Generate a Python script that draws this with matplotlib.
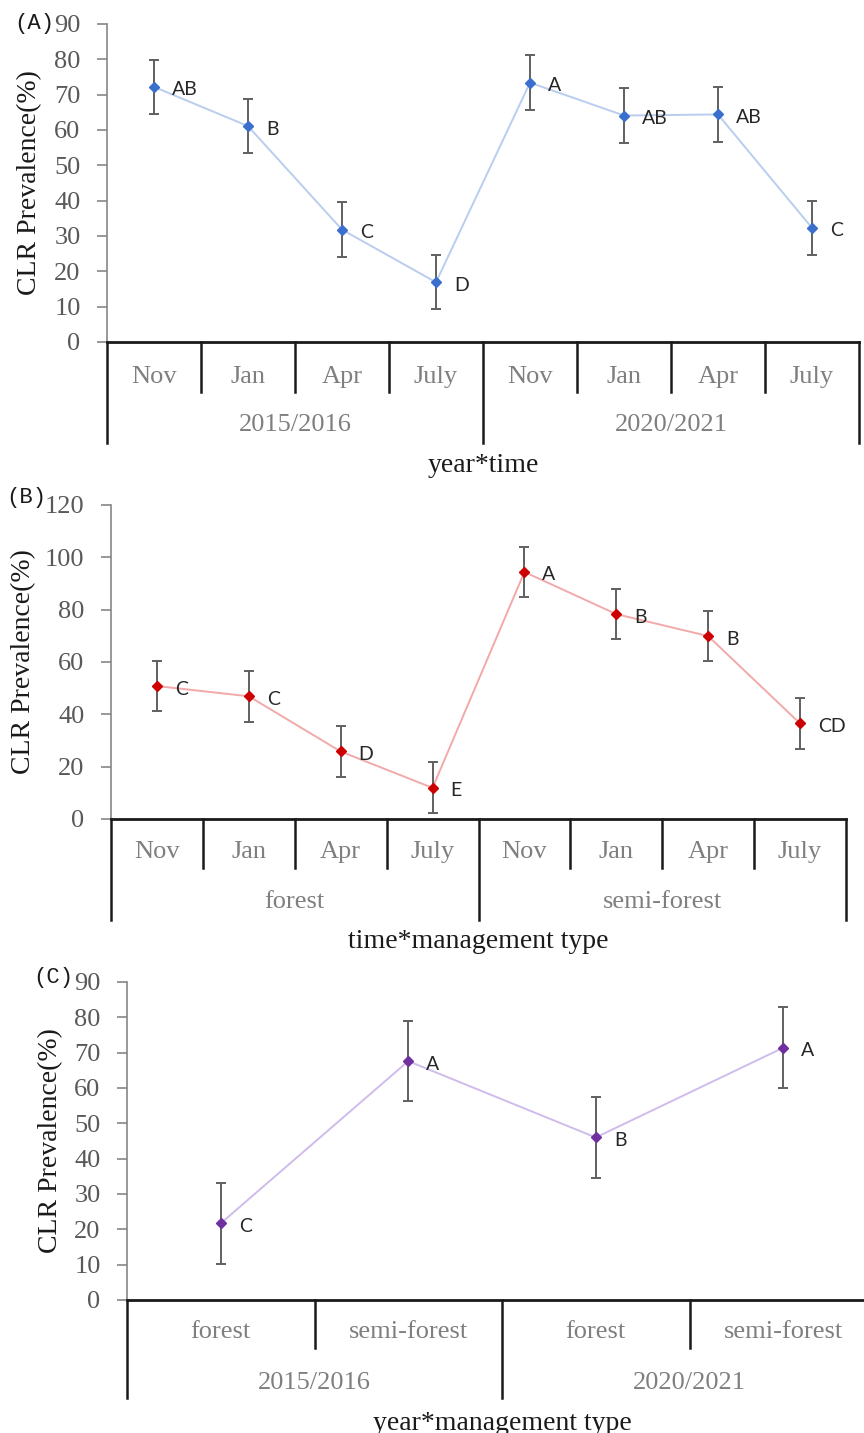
import matplotlib

matplotlib.use("Agg")
import matplotlib.pyplot as plt

W, H = 864, 1433

# (A) year*time
months = ["Nov", "Jan", "Apr", "July", "Nov", "Jan", "Apr", "July"]
years = ["2015/2016", "2020/2021"]
prev_a = [72.2, 61.1, 31.8, 16.9, 73.4, 64.1, 64.4, 32.3]
err_a = [7.7, 7.7, 7.7, 7.7, 7.7, 7.7, 7.7, 7.7]
letters_a = ["AB", "B", "C", "D", "A", "AB", "AB", "C"]

# (B) time*management type
mgmt = ["forest", "semi-forest"]
prev_b = [50.8, 46.9, 25.8, 11.9, 94.4, 78.3, 69.9, 36.5]
err_b = [9.7, 9.7, 9.7, 9.7, 9.7, 9.7, 9.7, 9.7]
letters_b = ["C", "C", "D", "E", "A", "B", "B", "CD"]

# (C) year*management type
types_c = ["forest", "semi-forest", "forest", "semi-forest"]
prev_c = [21.7, 67.6, 46.0, 71.4]
err_c = [11.4, 11.4, 11.4, 11.4]
letters_c = ["C", "A", "B", "A"]

plt.rcParams["font.family"] = ["Liberation Serif", "DejaVu Serif"]

TICK_GRAY = "#595959"
CAT_GRAY = "#7f7f7f"
FS = 19


def add_panel(fig, left, right, top, bottom):
    return fig.add_axes([left / W, 1 - bottom / H, (right - left) / W, (bottom - top) / H])


def draw_panel(fig, box, ylim, ystep, values, errs, letters, cats, groups,
               marker_color, line_color, rows, xlabel, ylabel_x, tag, tag_xy):
    left, right, top, bottom = box
    ax = add_panel(fig, left, right, top, bottom)
    n = len(values)
    xs = list(range(n))

    ax.plot(xs, values, color=line_color, lw=1.4, zorder=2)
    ax.errorbar(xs, values, yerr=errs, fmt="none", ecolor="#606060",
                elinewidth=1.4, capsize=3.6, capthick=1.4, zorder=3)
    ax.plot(xs, values, ls="none", marker="D", ms=5.5, color=marker_color, zorder=4)
    for x, v, lab in zip(xs, values, letters):
        ax.annotate(lab, (x, v), xytext=(18, -3), textcoords="offset pixels",
                    ha="left", va="center", fontsize=14, family="Lato",
                    color="#262626")

    ax.set_xlim(-0.5, n - 0.5)
    ax.set_ylim(*ylim)
    ax.set_yticks(range(ylim[0], ylim[1] + 1, ystep))
    ax.set_xticks([])
    ax.tick_params(axis="y", direction="out", length=7, width=1.2,
                   color="#868686", pad=12, labelsize=FS, labelcolor=TICK_GRAY)
    for side in ("top", "right"):
        ax.spines[side].set_visible(False)
    ax.spines["left"].set_color("#868686")
    ax.spines["left"].set_linewidth(1.2)
    ax.spines["bottom"].set_color("#1a1a1a")
    ax.spines["bottom"].set_linewidth(2)

    ax.set_ylabel("CLR Prevalence(%)", fontsize=20, color="#1a1a1a")
    ax.yaxis.set_label_coords((ylabel_x - left) / (right - left), 0.5)

    # category table under the axis
    inner_px, outer_px, cat_px, group_px, xlabel_px = rows

    def fy(px):
        return (bottom - px) / (bottom - top)

    trans = ax.get_xaxis_transform()
    per_group = n // len(groups)
    for i in range(n + 1):
        depth = outer_px if i % per_group == 0 else inner_px
        ax.plot([i - 0.5, i - 0.5], [0, fy(depth)], transform=trans,
                color="#1a1a1a", lw=1.8, clip_on=False)
    for i, c in enumerate(cats):
        ax.text(i, fy(cat_px), c, transform=trans, ha="center", va="center",
                fontsize=FS, color=CAT_GRAY)
    for g, name in enumerate(groups):
        cx = g * per_group + (per_group - 1) / 2
        ax.text(cx, fy(group_px), name, transform=trans, ha="center",
                va="center", fontsize=FS, color=CAT_GRAY)
    ax.text(0.5, fy(xlabel_px), xlabel, transform=ax.transAxes, ha="center",
            va="center", fontsize=20, color="#1a1a1a")

    fig.text(tag_xy[0] / W, 1 - tag_xy[1] / H, tag, family="Liberation Mono",
             fontsize=16, ha="left", va="center", color="#1a1a1a")
    return ax


fig = plt.figure(figsize=(W / 100, H / 100), dpi=100)

draw_panel(fig, (107, 859, 24, 342), (0, 90), 10, prev_a, err_a, letters_a,
           months, years, "#3a6fce", "#b9cdee",
           (392, 443, 377, 425, 465), "year*time", 42, "(A)", (14, 24))

draw_panel(fig, (111, 846, 505, 819), (0, 120), 20, prev_b, err_b, letters_b,
           months, mgmt, "#cc0000", "#f2a9a9",
           (868, 920, 852, 902, 942), "time*management type", 36, "(B)", (6, 497))

draw_panel(fig, (127, 877, 982, 1300), (0, 90), 10, prev_c, err_c, letters_c,
           types_c, years, "#7030a0", "#cfbcec",
           (1348, 1398, 1332, 1383, 1423), "year*management type", 63, "(C)", (33, 977))

fig.savefig("out.png", dpi=100)
